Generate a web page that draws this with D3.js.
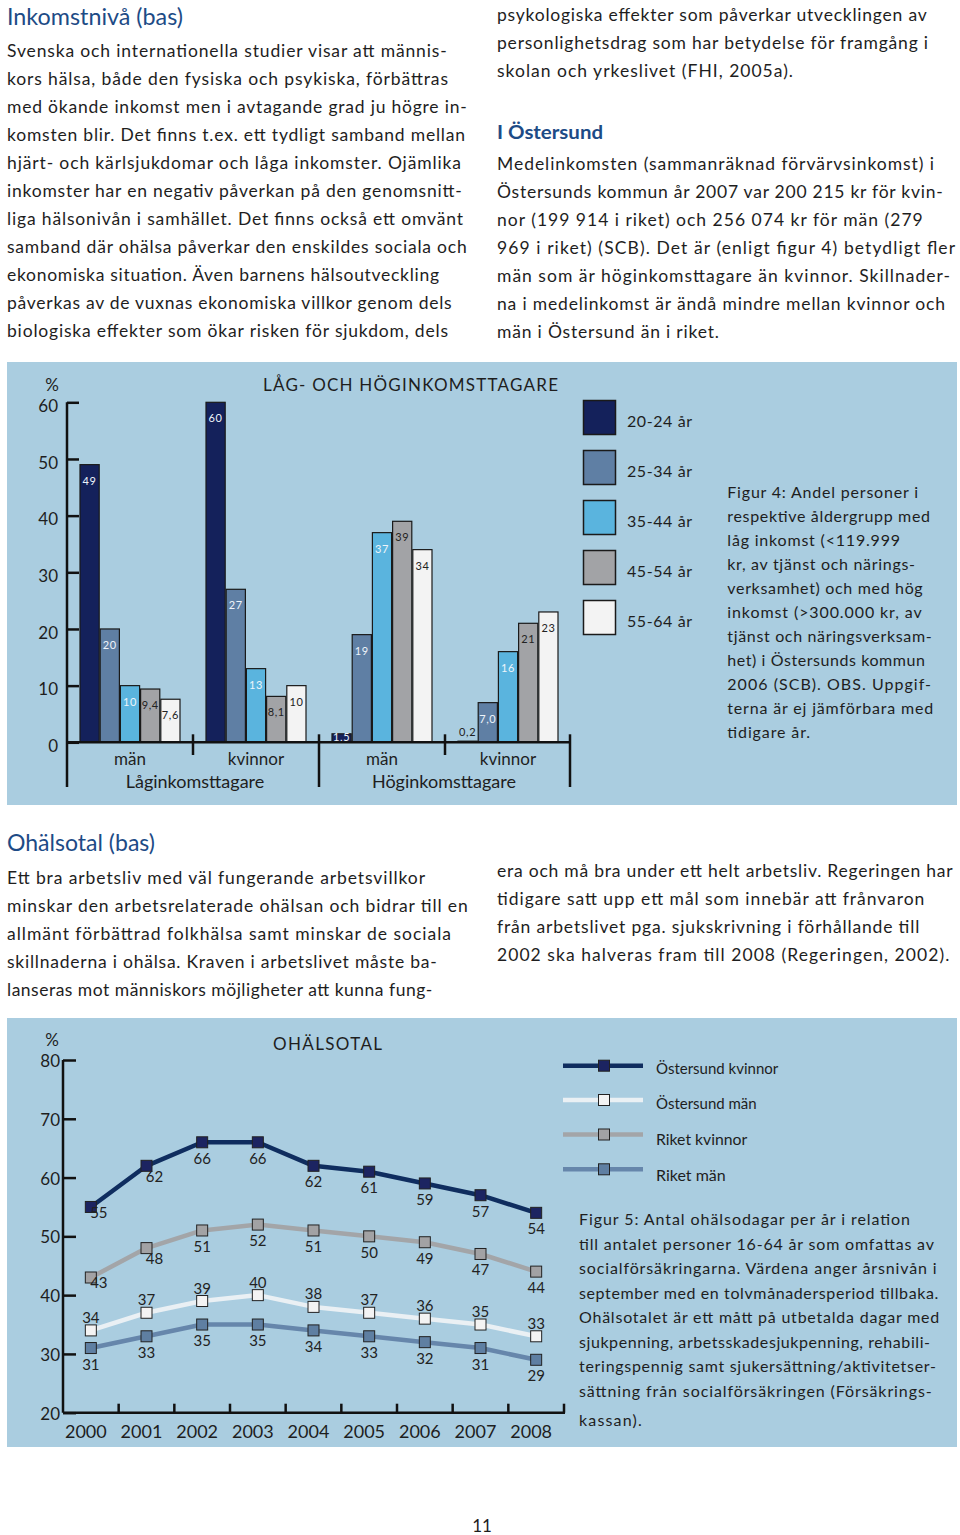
<!DOCTYPE html>
<html><head><meta charset="utf-8">
<script src="https://cdn.jsdelivr.net/npm/d3@7"></script>
<style>
body{margin:0;background:#fff}
svg{display:block}
text{font-family:Lato,"Noto Sans",sans-serif}
</style>
</head><body>
<svg id="page" width="960" height="1535"></svg>
<script>
// ---------------- DATA ----------------
const incomeCategories = ["män", "kvinnor", "män", "kvinnor"];
const incomeGroups = ["Låginkomsttagare", "Höginkomsttagare"];
const ageGroups = ["20-24 år", "25-34 år", "35-44 år", "45-54 år", "55-64 år"];
const age20_24 = [49, 60, 1.5, 0.2];
const age25_34 = [20, 27, 19, 7.0];
const age35_44 = [10, 13, 37, 16];
const age45_54 = [9.4, 8.1, 39, 21];
const age55_64 = [7.6, 10, 34, 23];
const barTicks = [0, 10, 20, 30, 40, 50, 60];

const years = ["2000", "2001", "2002", "2003", "2004", "2005", "2006", "2007", "2008"];
const ostersundKvinnor = [55, 62, 66, 66, 62, 61, 59, 57, 54];
const ostersundMan = [34, 37, 39, 40, 38, 37, 36, 35, 33];
const riketKvinnor = [43, 48, 51, 52, 51, 50, 49, 47, 44];
const riketMan = [31, 33, 35, 35, 34, 33, 32, 31, 29];
const lineSeriesNames = ["Östersund kvinnor", "Östersund män", "Riket kvinnor", "Riket män"];
const lineTicks = [20, 30, 40, 50, 60, 70, 80];

// ---------------- TEXT ----------------
const introLeft = [
  "Svenska och internationella studier visar att männis-",
  "kors hälsa, både den fysiska och psykiska, förbättras",
  "med ökande inkomst men i avtagande grad ju högre in-",
  "komsten blir. Det finns t.ex. ett tydligt samband mellan",
  "hjärt- och kärlsjukdomar och låga inkomster. Ojämlika",
  "inkomster har en negativ påverkan på den genomsnitt-",
  "liga hälsonivån i samhället. Det finns också ett omvänt",
  "samband där ohälsa påverkar den enskildes sociala och",
  "ekonomiska situation. Även barnens hälsoutveckling",
  "påverkas av de vuxnas ekonomiska villkor genom dels",
  "biologiska effekter som ökar risken för sjukdom, dels"
];
const introRightA = [
  "psykologiska effekter som påverkar utvecklingen av",
  "personlighetsdrag som har betydelse för framgång i",
  "skolan och yrkeslivet (FHI, 2005a)."
];
const introRightB = [
  "Medelinkomsten (sammanräknad förvärvsinkomst) i",
  "Östersunds kommun år 2007 var 200 215 kr för kvin-",
  "nor (199 914 i riket) och 256 074 kr för män (279",
  "969 i riket) (SCB). Det är (enligt figur 4) betydligt fler",
  "män som är höginkomsttagare än kvinnor. Skillnader-",
  "na i medelinkomst är ändå mindre mellan kvinnor och",
  "män i Östersund än i riket."
];
const fig4Caption = [
  "Figur 4: Andel personer i",
  "respektive åldergrupp med",
  "låg inkomst (<119.999",
  "kr, av tjänst och närings-",
  "verksamhet) och med hög",
  "inkomst (>300.000 kr, av",
  "tjänst och näringsverksam-",
  "het) i Östersunds kommun",
  "2006 (SCB). OBS. Uppgif-",
  "terna är ej jämförbara med",
  "tidigare år."
];
const sec2Left = [
  "Ett bra arbetsliv med väl fungerande arbetsvillkor",
  "minskar den arbetsrelaterade ohälsan och bidrar till en",
  "allmänt förbättrad folkhälsa samt minskar de sociala",
  "skillnaderna i ohälsa. Kraven i arbetslivet måste ba-",
  "lanseras mot människors möjligheter att kunna fung-"
];
const sec2Right = [
  "era och må bra under ett helt arbetsliv. Regeringen har",
  "tidigare satt upp ett mål som innebär att frånvaron",
  "från arbetslivet pga. sjukskrivning i förhållande till",
  "2002 ska halveras fram till 2008 (Regeringen, 2002)."
];
const fig5Caption = [
  "Figur 5: Antal ohälsodagar per år i relation",
  "till antalet personer 16-64 år som omfattas av",
  "socialförsäkringarna. Värdena anger årsnivån i",
  "september med en tolvmånadersperiod tillbaka.",
  "Ohälsotalet är ett mått på utbetalda dagar med",
  "sjukpenning, arbetsskadesjukpenning, rehabili-",
  "teringspennig samt sjukersättning/aktivitetser-",
  "sättning från socialförsäkringen (Försäkrings-",
  "kassan)."
];

// ---------------- LAYOUT / STYLE ----------------
const BG = "#aacde0";
const INK = "#1e1e1e";
const HEAD = "#1d4b86";
const svg = d3.select("#page");

function para(lines, x, ys, ends, size, opts = {}) {
  const g = svg.append("g");
  lines.forEach((t, i) => {
    const el = g.append("text").attr("x", x).attr("y", ys[i])
      .attr("font-size", size).attr("fill", opts.fill || INK).text(t);
    if (opts.weight) el.attr("font-weight", opts.weight);
    if (opts.spacing) el.attr("letter-spacing", opts.spacing);
    if (ends && ends[i]) el.attr("textLength", ends[i] - x).attr("lengthAdjust", opts.adjust || "spacing");
  });
  return g;
}
const seq = (start, step, n) => d3.range(n).map(i => start + i * step);

// Headings & body text
para(["Inkomstnivå (bas)"], 7, [25], [183], 23, {fill: HEAD, adjust: "spacingAndGlyphs"});
para(introLeft, 7, seq(56.5, 28, introLeft.length),
  [446.7, 448, 466.7, 465, 461, 461.7, 463, 466.7, 439, 451.7, 448], 17.5);
para(introRightA, 497, seq(20.5, 28, 3), [926.7, 928, 793], 17.5);
para(["I Östersund"], 497, [139.3], [603], 19.5, {fill: HEAD, weight: "bold", adjust: "spacingAndGlyphs"});
para(introRightB, 497, seq(169.5, 28, 7), [934, 942.7, 922.7, 955, 950, 945, 719], 17.5);

para(["Ohälsotal (bas)"], 7, [851], [155], 24, {fill: HEAD, adjust: "spacingAndGlyphs"});
para(sec2Left, 7, seq(884, 28, 5), [425, 467.7, 451, 436.7, 432.3], 17.5);
para(sec2Right, 497, seq(876.5, 28, 4), [952.7, 924.3, 919.3, 949.3], 17.5);

svg.append("text").attr("x", 482).attr("y", 1532).attr("text-anchor", "middle")
  .attr("font-size", 17).attr("fill", INK).text("11");

// ---------------- BAR CHART (Figur 4) ----------------
svg.append("rect").attr("x", 7).attr("y", 362).attr("width", 950).attr("height", 443).attr("fill", BG);

const barSeries = [age20_24, age25_34, age35_44, age45_54, age55_64];
const barColors = ["#14215b", "#5f7fa4", "#5ab4de", "#a2a3a6", "#f3f3f3"];
const labelColors = ["#eef4fa", "#eef4fa", "#eef4fa", "#222", "#222"];

const xCat = d3.scaleBand().domain(d3.range(incomeCategories.length)).range([67, 571]);
const xAge = d3.scaleBand().domain(ageGroups).range([13, 113]).paddingInner(0.05);
const yBar = d3.scaleLinear().domain([0, 60]).range([742.3, 402.3]);
const fmt = v => v < 10 ? v.toFixed(1).replace(".", ",") : String(Math.round(v));

const gBars = svg.append("g");
ageGroups.forEach((ag, ai) => {
  const sel = gBars.append("g").selectAll("g").data(barSeries[ai]).enter().append("g");
  sel.append("rect")
    .attr("x", (d, ci) => xCat(ci) + xAge(ag))
    .attr("y", d => yBar(d))
    .attr("width", xAge.bandwidth())
    .attr("height", d => yBar(0) - yBar(d))
    .attr("fill", barColors[ai]).attr("stroke", "#1a1a1a").attr("stroke-width", 1.2);
});
ageGroups.forEach((ag, ai) => {
  gBars.append("g").selectAll("text").data(barSeries[ai]).enter().append("text")
    .attr("x", (d, ci) => xCat(ci) + xAge(ag) + xAge.bandwidth() / 2)
    .attr("y", d => d < 1 ? yBar(d) - 5 : Math.min(yBar(d) + 20, yBar(0) - 1))
    .attr("text-anchor", "middle")
    .attr("font-size", 11).attr("letter-spacing", 0.6)
    .attr("fill", d => d < 1 ? "#222" : labelColors[ai])
    .text(fmt);
});

// Axis
const yAxisBar = d3.axisLeft(yBar).tickValues(barTicks).tickSize(-12).tickPadding(9).tickSizeOuter(0);
const gAxB = svg.append("g").attr("transform", "translate(67,0)").call(yAxisBar);
gAxB.select(".domain").remove();
gAxB.selectAll("line").attr("stroke", "#111").attr("stroke-width", 2.5);
gAxB.selectAll("text").attr("font-size", 17).attr("fill", INK).attr("dy", "0.55em");
svg.append("text").attr("x", 52).attr("y", 391).attr("text-anchor", "middle").attr("font-size", 17).attr("fill", INK).text("%");

const axLines = svg.append("g").attr("stroke", "#111").attr("stroke-width", 2.5);
axLines.append("line").attr("x1", 67).attr("x2", 67).attr("y1", yBar(60)).attr("y2", 787);
axLines.append("line").attr("x1", 67).attr("x2", xCat.range()[1] - 1).attr("y1", yBar(0)).attr("y2", yBar(0));
d3.range(1, incomeCategories.length + 1).forEach(i => {
  const x = i < incomeCategories.length ? xCat(i) : xCat.range()[1] - 1;
  const long = i % 2 === 0;
  axLines.append("line").attr("x1", x).attr("x2", x).attr("y1", yBar(0) - 8).attr("y2", long ? 787 : 755);
});

// Category labels
svg.append("g").selectAll("text").data(incomeCategories).enter().append("text")
  .attr("x", (d, i) => xCat(i) + xCat.bandwidth() / 2).attr("y", 765)
  .attr("text-anchor", "middle").attr("font-size", 17).attr("fill", INK).text(d => d);
svg.append("g").selectAll("text").data(incomeGroups).enter().append("text")
  .attr("x", (d, i) => xCat(i * 2 + 1) + 2 - (i ? 3 : 0)).attr("y", 787.5)
  .attr("text-anchor", "middle").attr("font-size", 18).attr("fill", INK).text(d => d);

// Title
svg.append("text").attr("x", 263).attr("y", 391).attr("font-size", 17).attr("fill", INK)
  .attr("textLength", 295).attr("lengthAdjust", "spacing").text("LÅG- OCH HÖGINKOMSTTAGARE");

// Legend
const gLegB = svg.append("g");
ageGroups.forEach((ag, i) => {
  gLegB.append("rect").attr("x", 583.5).attr("y", 400.5 + i * 50).attr("width", 32).attr("height", 34)
    .attr("fill", barColors[i]).attr("stroke", "#1a1a1a").attr("stroke-width", 1.5);
  gLegB.append("text").attr("x", 627).attr("y", 427 + i * 50).attr("font-size", 16).attr("fill", INK)
    .attr("textLength", 65).attr("lengthAdjust", "spacing").text(ag);
});
para(fig4Caption, 727.3, seq(498.3, 23.95, fig4Caption.length),
  [918, 930, 900, 915, 922.7, 921.7, 931.7, 925, 931, 933.3, 810], 16);

// ---------------- LINE CHART (Figur 5) ----------------
svg.append("rect").attr("x", 7).attr("y", 1018).attr("width", 950).attr("height", 429).attr("fill", BG);

const xYear = d3.scaleBand().domain(years).range([63, 564]);
const yLine = d3.scaleLinear().domain([20, 80]).range([1412.7, 1060]);
const cx = i => xYear(years[i]) + xYear.bandwidth() / 2;

const yAxisLine = d3.axisLeft(yLine).tickValues(lineTicks).tickSize(-13).tickPadding(3).tickSizeOuter(0);
const gAxL = svg.append("g").attr("transform", "translate(63,0)").call(yAxisLine);
gAxL.select(".domain").remove();
gAxL.selectAll("line").attr("stroke", "#111").attr("stroke-width", 2.5);
gAxL.selectAll("text").attr("font-size", 17).attr("fill", INK).attr("dy", "0.38em");
svg.append("text").attr("x", 52).attr("y", 1046).attr("text-anchor", "middle").attr("font-size", 17).attr("fill", INK).text("%");

const axL = svg.append("g").attr("stroke", "#111").attr("stroke-width", 2.5);
axL.append("line").attr("x1", 63).attr("x2", 63).attr("y1", yLine(80)).attr("y2", yLine(20));
axL.append("line").attr("x1", 63).attr("x2", 565).attr("y1", yLine(20)).attr("y2", yLine(20));
years.slice(1).map(y => xYear(y)).concat([xYear.range()[1]]).forEach(x => {
  axL.append("line").attr("x1", x).attr("x2", x).attr("y1", yLine(20)).attr("y2", yLine(20) - 9);
});
svg.append("g").selectAll("text").data(years).enter().append("text")
  .attr("x", (d, i) => cx(i) - 5).attr("y", 1438).attr("text-anchor", "middle")
  .attr("font-size", 18).attr("fill", INK).text(d => d);

svg.append("text").attr("x", 273).attr("y", 1049.5).attr("font-size", 17).attr("fill", INK)
  .attr("textLength", 109).attr("lengthAdjust", "spacing").text("OHÄLSOTAL");

const lineSeries = [
  {name: lineSeriesNames[3], values: riketMan, line: "#6686ab", fill: "#5f7fa2", pos: "below", shift: false},
  {name: lineSeriesNames[1], values: ostersundMan, line: "#eaf0f4", fill: "#f3f3f3", pos: "above", shift: false},
  {name: lineSeriesNames[2], values: riketKvinnor, line: "#a3a5a8", fill: "#a2a2a4", pos: "below", shift: true},
  {name: lineSeriesNames[0], values: ostersundKvinnor, line: "#0f2d5f", fill: "#1c2461", pos: "below", shift: true}
];
const lineGen = d3.line().x((d, i) => cx(i)).y(d => yLine(d));
const MS = 11;
lineSeries.forEach(s => {
  const g = svg.append("g");
  g.append("path").attr("d", lineGen(s.values)).attr("fill", "none")
    .attr("stroke", s.line).attr("stroke-width", 4.5).attr("stroke-linejoin", "round");
  g.selectAll("rect").data(s.values).enter().append("rect")
    .attr("x", (d, i) => cx(i) - MS / 2).attr("y", d => yLine(d) - MS / 2)
    .attr("width", MS).attr("height", MS).attr("fill", s.fill)
    .attr("stroke", "#222").attr("stroke-width", 1);
  g.selectAll("text").data(s.values).enter().append("text")
    .attr("x", (d, i) => cx(i) + (s.shift && i < 2 ? 8 : 0))
    .attr("y", (d, i) => yLine(d) + (s.pos === "above" ? -7.5 : (s.shift && i === 0 ? 11 : (s.shift && i === 1 ? 16 : 21.5))))
    .attr("text-anchor", "middle").attr("font-size", 15).attr("fill", "#222").text(d => d);
});

// Legend
const legOrder = [3, 1, 2, 0]; // index into lineSeries for rows
const legRowsY = [1065.7, 1100, 1134.5, 1169.3];
const legLabelY = [1074, 1109.3, 1145, 1180.7];
const legEnds = [778.3, 756.7, 747.3, 725.7];
legOrder.forEach((si, r) => {
  const s = lineSeries[si];
  const g = svg.append("g");
  g.append("line").attr("x1", 563).attr("x2", 643).attr("y1", legRowsY[r]).attr("y2", legRowsY[r])
    .attr("stroke", s.line).attr("stroke-width", 4.5);
  g.append("rect").attr("x", 604 - MS / 2).attr("y", legRowsY[r] - MS / 2).attr("width", MS).attr("height", MS)
    .attr("fill", s.fill).attr("stroke", "#222").attr("stroke-width", 1);
  g.append("text").attr("x", 656).attr("y", legLabelY[r]).attr("font-size", 16).attr("fill", INK)
    .attr("textLength", legEnds[r] - 656).attr("lengthAdjust", "spacingAndGlyphs").text(s.name);
});
para(fig5Caption, 579, seq(1225, 24.5, 8).concat([1425.5]),
  [910, 934, 936.7, 938.3, 939.3, 930, 936, 931.7, 641.7], 16);
</script>
</body></html>
